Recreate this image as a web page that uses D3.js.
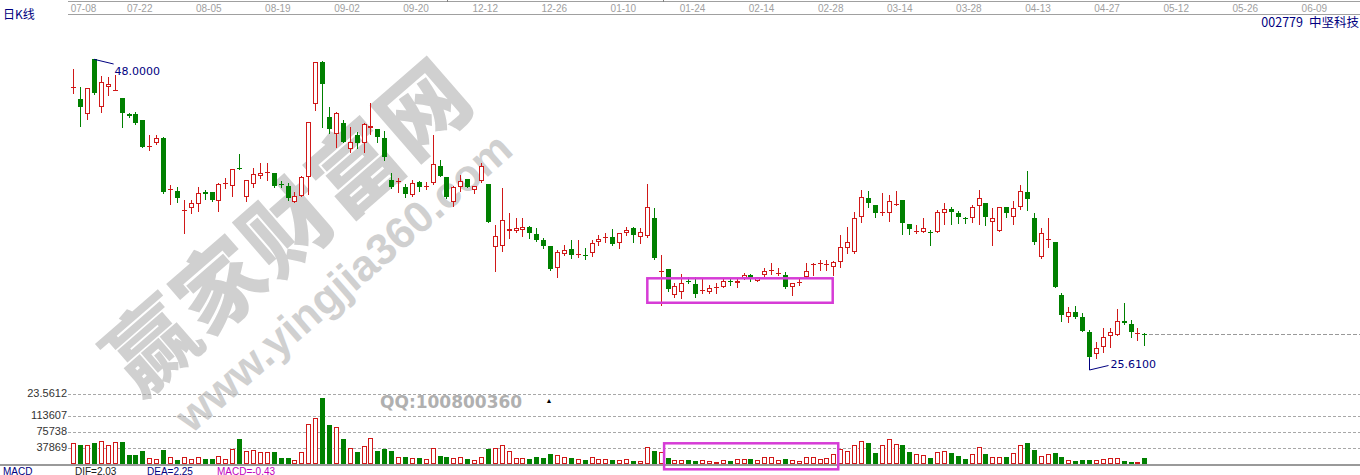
<!DOCTYPE html>
<html><head><meta charset="utf-8">
<script src="https://cdn.jsdelivr.net/npm/d3@7"></script>
<style>body{margin:0;background:#fff;} svg{display:block;}</style>
</head><body>
<svg id="c" width="1360" height="475"></svg>
<script>
// ---------- DATA ----------
const openP = [
45.88,45.03,43.88,48.00,44.45,45.90,45.70,45.08,43.88,43.88,
43.45,41.52,41.71,42.08,38.26,38.12,36.71,36.84,37.14,38.04,
38.04,37.41,38.75,38.53,39.86,37.71,38.66,39.28,39.46,39.46,
38.68,38.53,37.34,37.79,39.21,44.63,47.78,43.66,42.41,43.25,
41.28,42.33,41.71,42.86,42.76,42.08,38.96,38.88,38.46,37.84,
38.79,38.50,38.71,40.01,39.16,37.34,38.46,39.04,38.21,38.89,
38.66,33.92,34.04,35.14,35.14,35.22,35.46,34.92,34.47,34.02,
32.35,33.42,33.77,33.41,33.36,33.52,34.34,34.71,34.67,34.27,
34.97,35.39,34.72,34.77,36.09,32.16,32.28,30.35,30.60,31.41,
31.15,30.71,30.60,30.96,30.97,31.41,31.23,31.60,31.85,31.40,
31.85,32.21,32.01,31.85,30.93,31.34,31.72,32.64,32.71,32.64,
32.47,32.84,33.85,33.59,36.21,37.59,37.09,36.53,36.47,37.13,
37.46,35.67,35.15,35.09,35.10,35.09,36.47,36.79,36.51,36.15,
36.09,37.01,37.22,35.84,35.14,36.92,36.17,36.96,38.04,36.09,
33.17,34.53,34.30,30.35,28.68,29.05,28.68,27.60,25.93,26.43,
27.28,27.36,28.43,28.16,27.47,27.46];
const highP = [
47.27,45.90,45.85,48.00,46.75,46.71,46.79,45.10,43.98,44.03,
43.48,42.33,42.33,42.16,38.59,38.46,37.46,37.46,38.42,38.21,
38.06,38.76,39.09,39.79,40.89,38.96,39.84,40.21,40.21,39.51,
38.91,38.71,38.09,39.25,43.28,47.78,47.87,44.45,44.08,43.45,
42.95,42.58,43.25,44.70,42.78,42.65,39.51,39.09,38.66,38.96,
38.89,38.79,42.33,40.46,39.18,38.51,39.34,39.06,38.53,40.26,
38.68,35.59,38.34,36.47,36.09,36.09,35.52,35.35,34.60,34.04,
33.72,34.09,34.47,34.47,33.85,34.47,34.84,34.97,35.29,35.02,
35.46,35.41,35.35,38.66,36.84,33.35,32.30,31.27,31.92,31.72,
31.72,31.60,31.10,31.23,31.60,31.60,31.53,31.97,31.92,31.70,
32.35,32.72,32.35,32.10,31.25,31.53,32.72,32.72,32.97,32.97,
32.92,34.84,35.42,36.59,38.21,38.14,37.11,37.97,37.84,38.16,
37.48,35.69,35.59,36.09,35.22,36.71,37.26,36.96,36.66,36.21,
37.09,38.21,37.24,36.84,36.96,36.94,37.41,38.59,39.64,36.47,
35.40,36.09,34.32,30.48,29.47,29.55,28.98,27.73,26.85,27.86,
27.86,29.28,29.73,28.48,27.86,27.48];
const lowP = [
45.50,43.01,43.51,45.38,44.03,45.29,45.69,42.91,43.68,43.13,
41.41,41.21,41.68,37.97,37.14,37.34,35.02,36.47,36.66,37.52,
37.41,36.66,38.34,37.79,39.76,37.41,38.46,39.09,38.96,38.46,
38.42,37.46,37.34,37.75,37.91,44.20,42.91,42.46,41.46,41.80,
41.08,41.34,41.08,42.38,41.83,40.46,38.40,38.09,37.71,37.76,
38.16,38.27,38.69,39.24,37.59,37.01,38.16,38.42,38.01,38.83,
35.82,32.17,33.67,34.60,35.05,34.77,34.60,34.42,33.85,32.22,
31.72,33.35,33.10,33.22,33.02,33.27,34.09,34.34,34.09,33.85,
34.84,34.34,34.27,34.67,33.08,29.60,30.67,30.22,30.10,31.23,
30.18,30.48,30.48,30.48,30.93,31.10,30.97,31.55,31.40,31.38,
31.77,31.92,31.85,30.85,30.35,31.10,31.68,31.85,32.22,32.22,
31.85,32.42,33.47,33.47,35.82,36.92,36.21,36.34,35.92,37.09,
34.92,34.92,35.02,35.07,34.09,35.07,35.67,35.67,35.72,35.72,
35.84,35.67,35.59,34.09,35.12,36.17,35.67,36.77,36.72,34.17,
33.15,33.97,30.95,28.43,28.35,28.60,27.66,25.61,25.65,26.06,
26.48,27.34,28.18,27.18,26.98,26.61];
const closeP = [
45.90,44.45,45.83,45.50,46.28,46.13,45.70,43.96,43.78,43.21,
41.46,41.53,42.08,38.09,38.27,37.64,36.72,37.22,37.97,37.91,
37.46,38.64,38.76,39.79,39.81,38.96,39.39,39.46,39.58,38.53,
38.64,37.59,37.79,39.21,43.28,47.78,46.13,42.80,43.96,41.83,
41.83,41.75,43.13,43.01,42.20,40.66,38.42,38.89,37.91,38.71,
38.46,38.51,40.14,39.26,37.67,38.42,38.89,38.46,38.51,40.01,
35.84,34.77,35.97,35.29,35.34,35.46,34.97,34.47,34.02,32.30,
33.55,33.72,33.35,33.42,33.35,34.22,34.54,34.72,34.15,35.02,
35.22,34.84,35.05,36.92,33.10,32.17,30.78,31.02,31.23,31.40,
30.40,30.72,30.85,30.97,31.40,31.40,31.40,31.85,31.60,31.68,
32.17,32.22,32.02,30.97,31.23,31.35,32.15,32.65,32.72,32.65,
32.84,33.92,34.34,36.09,37.67,37.22,36.51,36.54,37.41,37.14,
35.72,35.29,35.16,35.34,35.09,36.54,36.77,36.59,36.21,36.14,
36.92,37.59,36.17,36.09,36.92,36.47,36.84,38.16,37.52,34.34,
34.97,34.54,30.97,28.85,29.05,28.68,27.68,25.68,26.36,27.18,
27.56,28.43,28.23,27.60,27.48,27.45];
const volume = [
48700,44700,44000,50100,54800,44700,51000,51700,21200,21200,
31300,14800,11100,32900,17200,9400,15800,11100,15800,11800,
11800,19500,11100,35300,58800,31300,32900,28200,28200,28200,
14800,14800,9400,28200,94100,107500,154500,91700,86300,58800,
38300,28900,43000,60400,31300,35300,30600,17200,15800,13400,
13400,11100,38300,19500,17200,14100,17200,12500,9400,17200,
35300,36900,44000,30600,13400,13400,11100,17200,14800,23500,
21200,15800,13400,11100,9400,15800,11800,11800,9400,9400,
11800,7100,7100,39300,30600,27500,13400,9400,9400,9400,
7100,9400,7100,4700,9400,7100,11800,11800,11800,9400,
15800,15800,9400,11800,9400,7100,15800,17200,11800,13400,
23500,34600,31300,44700,54800,48700,25200,44700,58100,46300,
44700,28900,23500,21200,13400,28900,30600,26600,18800,11800,
23500,40700,23500,17200,17200,15800,26600,44700,50100,32900,
18800,23500,26600,15800,9400,6400,9400,9400,9400,11800,
13400,13400,7100,4700,4700,13400];
const dateTicks = ["07-08","07-22","08-05","08-19","09-02","09-20","12-12","12-26","01-10","01-24",
                   "02-14","02-28","03-14","03-28","04-13","04-27","05-12","05-26","06-09"];
const tickStep = 10;
const volTickValues = [37869, 75738, 113607, 165000];
const volTickLabels = ["37869", "75738", "113607", "23.5612"];
const highLabel = "48.0000";
const lowLabel = "25.6100";
const macdTexts = [["MACD","#000080",3],["DIF=2.03","#202020",75],["DEA=2.25","#000080",147],["MACD=-0.43","#c000c0",217]];
// highlighted ranges (index from/to, price top/bottom, volume top/bottom)
const priceBox = {i0: 83.07, i1: 109.9, pTop: 31.60, pBot: 29.77};
const volBox = {i0: 85.5, i1: 110.7, vTop: 48690, vBot: -12470};

// ---------- CHART ----------
const W = 1360, H = 475;
const RED = "#d01818", GREEN = "#008000", NAVY = "#000080", MAG = "#d63cd6";
const svg = d3.select("#c");
svg.append("rect").attr("width", W).attr("height", H).attr("fill", "#fff");

const x = d3.scaleLinear().domain([0, 180]).range([73.3, 1317.1]);
const yP = d3.scaleLinear().domain([25.61, 48]).range([358.3, 59.3]);
const yV = d3.scaleLinear().domain([0, 113607]).range([464, 415.7]);

// watermark
const wm = svg.append("g").attr("fill", "#c8c8c8").attr("opacity", 0.85);
wm.append("text").attr("transform", "translate(284,222) rotate(-41)")
  .attr("text-anchor", "middle").attr("dominant-baseline", "central")
  .attr("font-family", "'Noto Sans CJK SC'").attr("font-weight", 900)
  .attr("font-size", 88).attr("letter-spacing", 2).text("赢家财富网");
wm.append("text").attr("transform", "translate(343,282) rotate(-41)")
  .attr("text-anchor", "middle").attr("dominant-baseline", "central")
  .attr("font-family", "'Liberation Sans', Arial").attr("font-weight", "bold")
  .attr("font-size", 44).text("www.yingjia360.com");
svg.append("text").attr("x", 380).attr("y", 408).attr("fill", "#b0b0b0")
  .attr("font-family", "'DejaVu Sans'").attr("font-weight", "bold").attr("font-size", 17)
  .text("QQ:100800360");
svg.append("text").attr("x", 549).attr("y", 403).attr("text-anchor", "middle")
  .attr("font-size", 7).attr("fill", "#000").text("▲");

// top date axis
const axisG = svg.append("g").attr("shape-rendering", "crispEdges");
axisG.append("line").attr("x1", 68).attr("x2", W).attr("y1", 1.5).attr("y2", 1.5).attr("stroke", "#a0a0a0");
axisG.append("line").attr("x1", 68).attr("x2", W).attr("y1", 14.5).attr("y2", 14.5).attr("stroke", "#a0a0a0");
[54.1, 85.3].forEach(v => axisG.append("line").attr("x1", Math.round(x(v)) + 0.5).attr("x2", Math.round(x(v)) + 0.5)
  .attr("y1", 0).attr("y2", 2).attr("stroke", "#808080"));
svg.append("g").selectAll("text").data(dateTicks).join("text")
  .attr("x", (d, k) => k === 0 ? x(0) - 2.6 : x(k * tickStep) - 2.7)
  .attr("text-anchor", (d, k) => k === 0 ? "start" : "middle")
  .attr("y", 12.3).attr("font-family", "'Liberation Sans', Arial").attr("font-size", 10)
  .attr("fill", "#a0a0a0").text(d => d);

svg.append("text").attr("x", 3).attr("y", 19).attr("fill", NAVY)
  .attr("font-family", "'Noto Sans CJK SC'").attr("font-size", 12).text("日K线");
const nm = svg.append("text").attr("x", 1359).attr("y", 27).attr("text-anchor", "end").attr("fill", NAVY)
  .attr("font-family", "'Noto Sans CJK SC'").attr("font-size", 12.5);
nm.append("tspan").text("002779");
nm.append("tspan").attr("dx", 6).text("中坚科技");

// volume grid
const vg = svg.append("g");
vg.selectAll("line").data(volTickValues).join("line")
  .attr("x1", 68).attr("x2", W).attr("y1", d => Math.round(yV(d)) + 0.5).attr("y2", d => Math.round(yV(d)) + 0.5)
  .attr("stroke", "#a8a8a8").attr("stroke-dasharray", "3,2").attr("shape-rendering", "crispEdges");
vg.selectAll("text").data(volTickValues).join("text")
  .attr("x", 67).attr("y", d => yV(d) + 3.5).attr("text-anchor", "end")
  .attr("font-family", "'Liberation Sans', Arial").attr("font-size", 11).attr("fill", "#333")
  .text((d, k) => volTickLabels[k]);

// candles
const idx = d3.range(openP.length);
const isUp = i => closeP[i] >= openP[i];
const px = i => Math.round(x(i));
const cg = svg.append("g").attr("shape-rendering", "crispEdges");
cg.selectAll("line.wick").data(idx).join("line").attr("class", "wick")
  .attr("x1", i => px(i) + 0.5).attr("x2", i => px(i) + 0.5)
  .attr("y1", i => Math.round(yP(highP[i]))).attr("y2", i => Math.round(yP(lowP[i])) + 1)
  .attr("stroke", i => isUp(i) ? RED : GREEN);
const bodyTop = i => Math.round(yP(Math.max(openP[i], closeP[i])));
const bodyBot = i => Math.round(yP(Math.min(openP[i], closeP[i])));
const doji = i => bodyBot(i) - bodyTop(i) < 2;
cg.selectAll("rect.doji").data(idx.filter(doji)).join("rect").attr("class", "doji")
  .attr("x", i => px(i) - 2).attr("y", bodyTop).attr("width", 5).attr("height", i => Math.max(1, bodyBot(i) - bodyTop(i)))
  .attr("fill", i => isUp(i) ? RED : GREEN);
cg.selectAll("rect.upb").data(idx.filter(i => !doji(i) && isUp(i))).join("rect").attr("class", "upb")
  .attr("x", i => px(i) - 1.5).attr("y", i => bodyTop(i) + 0.5).attr("width", 4)
  .attr("height", i => bodyBot(i) - bodyTop(i) - 1).attr("fill", "#fff").attr("stroke", RED);
cg.selectAll("rect.dnb").data(idx.filter(i => !doji(i) && !isUp(i))).join("rect").attr("class", "dnb")
  .attr("x", i => px(i) - 2).attr("y", bodyTop).attr("width", 5)
  .attr("height", i => bodyBot(i) - bodyTop(i)).attr("fill", GREEN);

// volume bars
const vb = svg.append("g").attr("shape-rendering", "crispEdges");
const vTop = i => Math.round(yV(volume[i]));
vb.selectAll("rect.vu").data(idx.filter(isUp)).join("rect").attr("class", "vu")
  .attr("x", i => px(i) - 1.5).attr("y", i => vTop(i) + 0.5).attr("width", 4)
  .attr("height", i => Math.max(0.5, 464 - vTop(i) - 1)).attr("fill", "#fff").attr("stroke", RED);
vb.selectAll("rect.vd").data(idx.filter(i => !isUp(i))).join("rect").attr("class", "vd")
  .attr("x", i => px(i) - 2).attr("y", vTop).attr("width", 5)
  .attr("height", i => 464 - vTop(i)).attr("fill", GREEN);
svg.append("rect").attr("x", 0).attr("y", yV(0)).attr("width", W).attr("height", 2).attr("fill", "#9a9a9a");

// last price dashed line
const last = closeP.length - 1;
svg.append("line").attr("x1", x(last) + 5).attr("x2", W)
  .attr("y1", Math.round(yP(closeP[last])) + 0.5).attr("y2", Math.round(yP(closeP[last])) + 0.5)
  .attr("stroke", "#999").attr("stroke-dasharray", "4,2").attr("shape-rendering", "crispEdges");

// high / low annotations
const iHi = d3.maxIndex(highP), iLo = d3.minIndex(lowP);
const hx = x(iHi), hy = yP(highP[iHi]);
svg.append("line").attr("x1", hx).attr("y1", hy).attr("x2", hx + 19.6).attr("y2", hy + 4.7).attr("stroke", NAVY);
svg.append("text").attr("x", hx + 20.4).attr("y", hy + 15.7).attr("fill", NAVY)
  .attr("font-family", "'DejaVu Sans'").attr("font-size", 11).text(highLabel);
const lx = Math.round(x(iLo)) + 0.5, ly = yP(lowP[iLo]);
svg.append("polyline").attr("points", `${lx},${ly} ${lx},${ly + 11.7} ${lx + 19},${ly + 7.2}`)
  .attr("fill", "none").attr("stroke", NAVY);
svg.append("text").attr("x", lx + 21).attr("y", ly + 9.7).attr("fill", NAVY)
  .attr("font-family", "'DejaVu Sans'").attr("font-size", 11).text(lowLabel);

// highlight boxes
svg.append("rect").attr("x", x(priceBox.i0)).attr("y", yP(priceBox.pTop))
  .attr("width", x(priceBox.i1) - x(priceBox.i0)).attr("height", yP(priceBox.pBot) - yP(priceBox.pTop))
  .attr("fill", "none").attr("stroke", MAG).attr("stroke-width", 2.5);
svg.append("rect").attr("x", x(volBox.i0)).attr("y", yV(volBox.vTop))
  .attr("width", x(volBox.i1) - x(volBox.i0)).attr("height", yV(volBox.vBot) - yV(volBox.vTop))
  .attr("fill", "none").attr("stroke", MAG).attr("stroke-width", 2.5);

// MACD legend row (kept fully inside the picture)
svg.append("g").selectAll("text").data(macdTexts).join("text")
  .attr("x", d => d[2]).attr("y", 474.5).attr("fill", d => d[1])
  .attr("font-family", "'Liberation Sans', Arial").attr("font-size", 10).text(d => d[0]);
</script>
</body></html>
